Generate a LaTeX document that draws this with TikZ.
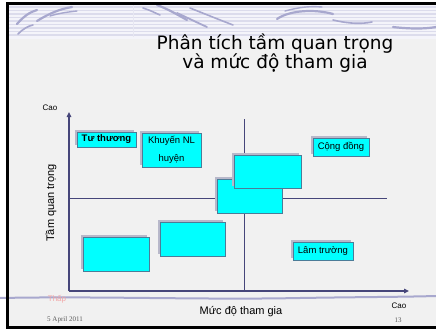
\documentclass[tikz,border=0pt]{standalone}
\usepackage{fontspec}
\setmainfont{Liberation Sans}
\newfontfamily\titlefont{DejaVu Sans}
\newfontfamily\datefont{Liberation Serif}
\usepackage{tikz}
\usetikzlibrary{arrows.meta,positioning,shadows}
\definecolor{paper}{HTML}{F1F1F1}
\definecolor{band}{HTML}{F4F4FA}
\definecolor{stripe}{HTML}{DCDCEC}
\definecolor{swoosh}{HTML}{A8A8CE}
\definecolor{axis}{HTML}{46467A}
\definecolor{cyanbox}{HTML}{00FFFF}
\definecolor{boxline}{HTML}{4C7C98}
\definecolor{shade}{HTML}{B8B8CA}
\definecolor{low}{HTML}{F2A6A6}
\definecolor{footer}{HTML}{5A5A5A}
\tikzset{
  actor/.style={draw=boxline,fill=cyanbox,line width=0.8pt,inner sep=0pt,align=center,
    font=\fontsize{9.5}{11}\selectfont,
    drop shadow={shadow xshift=-2pt,shadow yshift=2pt,fill=shade,opacity=1}},
  quad/.style={draw=axis,line width=0.9pt},
  axisline/.style={draw=axis,line width=1.6pt,-{Triangle[length=5pt,width=4.5pt]}},
  brush/.style={draw=swoosh,line cap=round,line width=2.2pt},
  lab/.style={inner sep=0pt,font=\fontsize{8}{9}\selectfont},
  axislab/.style={inner sep=0pt,font=\fontsize{11}{13}\selectfont},
  foot/.style={inner sep=0pt,text=footer,font=\datefont\fontsize{7}{8}\selectfont},
  title/.style={inner sep=0pt,align=center,font=\titlefont\fontsize{18.5}{19.5}\selectfont}
}
\begin{document}
\begin{tikzpicture}[x=1pt,y=-1pt]
  \useasboundingbox (0,0) rectangle (436,329);
  \fill[white] (0,0) rectangle (436,329);
  \fill[paper] (9,4) rectangle (436,326);
  \fill[band] (9,4) rectangle (436,39);
  \foreach \y in {7,10.5,...,38}
    \draw[stripe,line width=1.4pt] (9,\y) -- (436,\y);
  \draw[stripe!70!white,line width=0.8pt] (133,4) -- (133,37);
  % swooshes along the top
  \draw[brush] (17,24) .. controls (24,16) and (30,12) .. (37,10);
  \draw[brush,line width=1.6pt] (18,34) .. controls (23,29) and (28,26) .. (33,25);
  \draw[brush] (37,21) .. controls (50,13) and (60,9) .. (72,7);
  \draw[brush,line width=1.4pt] (50,16) .. controls (60,13) and (68,12) .. (77,11);
  \draw[brush,line width=1.6pt] (143,8) .. controls (150,10) and (155,13) .. (160,15);
  \draw[brush] (157,5) .. controls (168,9) and (178,15) .. (187,20);
  \draw[brush,line width=1.8pt] (177,13) .. controls (188,18) and (198,23) .. (207,27);
  \draw[brush,line width=1.6pt] (190,8) .. controls (205,14) and (220,20) .. (233,25);
  \draw[brush] (277,19) .. controls (290,10) and (315,9) .. (333,14);
  \draw[brush,line width=1.4pt] (285,11) .. controls (300,7) and (310,6) .. (322,7);
  \draw[brush,line width=1.6pt] (333,20) .. controls (350,24) and (362,24) .. (372,22);
  \draw[brush] (393,27) .. controls (410,29) and (425,29) .. (436,27);
  \draw[brush,line width=2pt] (0,298) .. controls (100,296) and (200,300) .. (300,298)
    .. controls (360,297) and (400,297) .. (436,296);
  % frame
  \draw[black,line width=3pt] (436,3.3) -- (7.5,3.3) -- (7.5,327.5) -- (436,327.5);

  \node[title] (title) at (275,53) {Phân tích tầm quan trọng\\và mức độ tham gia};

  \coordinate (o) at (69,291);
  \coordinate (ytop) at (69,112);
  \coordinate (xend) at (409,291);
  \coordinate (hl) at (70,198);
  \coordinate (hr) at (387,198);
  \coordinate (vt) at (244,119);
  \coordinate (vb) at (244,291);
  \draw[quad] (hl) -- (hr);
  \draw[quad] (vt) -- (vb);
  \draw[axisline] (o) -- (ytop);
  \draw[axisline] (o) -- (xend);

  \node[actor,minimum width=65pt,minimum height=34pt] (b5) at (249.5,196) {};
  \node[actor,minimum width=67pt,minimum height=33pt] (b4) at (267.5,171.5) {};
  \node[actor,minimum width=59pt,minimum height=15pt,font=\bfseries\fontsize{9.5}{11}\selectfont]
    (tu) at (106.5,139.5) {Tư thương};
  \node[actor,minimum width=59pt,minimum height=34pt] (kn) at (171.5,150)
    {Khuyến NL\\[6.5pt]huyện};
  \node[actor,minimum width=56pt,minimum height=18pt] (cd) at (341,147) {Cộng đồng};
  \node[actor,minimum width=66pt,minimum height=34pt] (b6) at (116,254) {};
  \node[actor,minimum width=65pt,minimum height=34pt] (b7) at (192.5,239) {};
  \node[actor,minimum width=60pt,minimum height=18pt] (lt) at (323,251) {Lâm trường};

  \node[lab] (ycao) at (50,108) {Cao};
  \node[axislab,rotate=90] (ylab) at (51,203) {Tầm quan trọng};
  \node[axislab] (xlab) at (241,312) {Mức độ tham gia};
  \node[lab] (xcao) at (399,306) {Cao};
  \node[lab,text=low] (thap) at (57,299) {Thấp};
  \node[foot] (date) at (65,320) {5 April 2011};
  \node[foot] (page) at (398,320) {13};
\end{tikzpicture}
\end{document}
